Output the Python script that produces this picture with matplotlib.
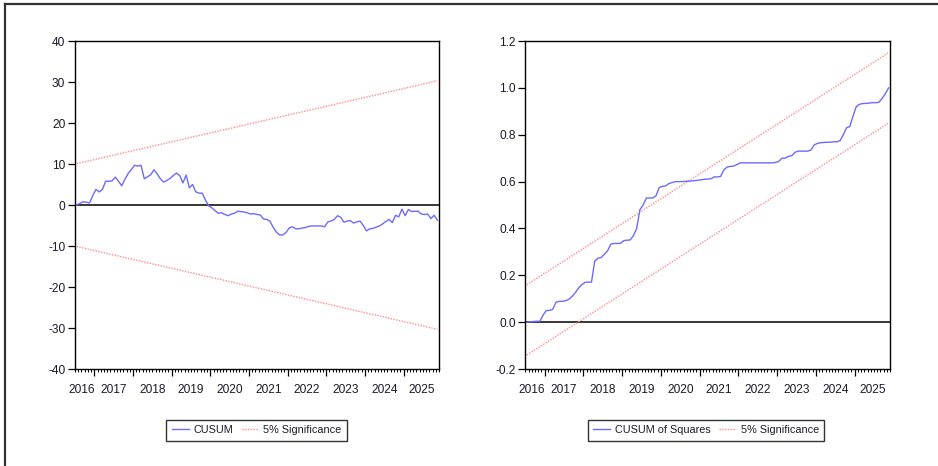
import numpy as np
import matplotlib.pyplot as plt
from matplotlib.lines import Line2D
from matplotlib.ticker import FixedLocator, NullFormatter

plt.rcParams['font.family'] = ['Liberation Sans', 'DejaVu Sans']
plt.rcParams['axes.unicode_minus'] = False

# Monthly sample: 2016M07 .. 2025M11
start_year, start_month = 2016, 7
n_obs = 113
years = list(range(2016, 2026))

cusum = [0.0, 0.4, 0.8, 0.7, 0.5, 2.3, 3.8, 3.2, 3.8, 5.8,
         5.8, 5.9, 6.8, 5.8, 4.7, 6.3, 7.7, 8.7, 9.7, 9.5,
         9.7, 6.4, 6.9, 7.4, 8.6, 7.6, 6.4, 5.6, 6.0, 6.5,
         7.2, 7.8, 7.2, 5.4, 7.3, 4.2, 5.0, 3.2, 2.9, 2.9,
         1.2, -0.2, -0.7, -1.4, -2.0, -1.9, -2.3, -2.6, -2.2, -2.0,
         -1.5, -1.6, -1.7, -1.9, -2.2, -2.1, -2.3, -2.4, -3.4, -3.5,
         -3.9, -5.4, -6.6, -7.3, -7.3, -6.7, -5.6, -5.3, -5.8, -5.8,
         -5.6, -5.5, -5.2, -5.1, -5.1, -5.1, -5.1, -5.3, -4.1, -3.9,
         -3.5, -2.6, -3.0, -4.2, -3.9, -3.8, -4.4, -4.1, -3.9, -5.0,
         -6.3, -5.8, -5.7, -5.4, -5.1, -4.6, -4.0, -3.5, -4.3, -2.5,
         -2.9, -1.0, -2.6, -1.1, -1.6, -1.5, -1.5, -2.2, -2.3, -2.2,
         -3.3, -2.5, -3.7]

cusumsq = [0.0, 0.002, 0.003, 0.004, 0.004, 0.03, 0.05, 0.05, 0.055, 0.085,
           0.089, 0.089, 0.092, 0.098, 0.11, 0.126, 0.146, 0.16, 0.17, 0.171,
           0.171, 0.26, 0.273, 0.276, 0.29, 0.305, 0.333, 0.336, 0.336, 0.337,
           0.348, 0.35, 0.351, 0.37, 0.40, 0.48, 0.50, 0.53, 0.53, 0.53,
           0.54, 0.575, 0.58, 0.582, 0.592, 0.596, 0.60, 0.60, 0.60, 0.601,
           0.602, 0.603, 0.604, 0.606, 0.608, 0.61, 0.611, 0.612, 0.62, 0.62,
           0.622, 0.65, 0.662, 0.665, 0.666, 0.672, 0.68, 0.68, 0.68, 0.68,
           0.68, 0.68, 0.68, 0.68, 0.68, 0.68, 0.68, 0.682, 0.686, 0.70,
           0.70, 0.708, 0.71, 0.725, 0.73, 0.73, 0.73, 0.73, 0.735, 0.757,
           0.763, 0.766, 0.767, 0.768, 0.768, 0.77, 0.77, 0.775, 0.80, 0.83,
           0.835, 0.88, 0.92, 0.93, 0.933, 0.934, 0.935, 0.937, 0.937, 0.938,
           0.955, 0.975, 1.0]

# 5% significance bands (start, end)
cusum_upper = [10.1, 30.3]
cusum_lower = [-10.1, -30.3]
sq_upper = [0.16, 1.15]
sq_lower = [-0.14, 0.85]

months = np.arange(n_obs) + (start_month - 1)
x = start_year + (months + 0.5) / 12.0
x_ends = [x[0], x[-1]]
x_lo = start_year + (start_month - 1) / 12.0
x_hi = x[-1] + 0.5 / 12.0

blue = '#6b6bff'
red = '#ff8c8c'
txt = '#1a1a2a'
fs = 8.6

fig = plt.figure(figsize=(9.38, 4.66), dpi=100)
ax1 = fig.add_axes([0.080, 0.208, 0.388, 0.704])
ax2 = fig.add_axes([0.560, 0.208, 0.389, 0.704])


def style_axis(ax, ylim, yticks, ylabels):
    ax.set_xlim(x_lo, x_hi)
    ax.set_ylim(*ylim)
    ax.axhline(0, color='black', lw=1.1, zorder=1)
    for s in ax.spines.values():
        s.set_linewidth(1.0)
        s.set_color('black')
    ax.set_yticks(yticks)
    ax.set_yticklabels(ylabels, fontsize=fs, color=txt)
    ax.tick_params(axis='y', direction='out', length=5, width=0.9, pad=2, right=False)
    # year starts as major ticks, months as minor
    ax.xaxis.set_major_locator(FixedLocator(years[1:]))
    ax.xaxis.set_major_formatter(NullFormatter())
    mticks = start_year + np.arange(start_month - 1, start_month - 1 + n_obs + 1) / 12.0
    ax.xaxis.set_minor_locator(FixedLocator(mticks))
    ax.tick_params(axis='x', which='major', direction='out', length=5, width=0.9)
    ax.tick_params(axis='x', which='minor', direction='out', length=2.5, width=0.7)
    for yr in years:
        a = max(yr, x_lo)
        b = min(yr + 1, x_hi)
        ax.text((a + b) / 2 - (0.08 if yr == years[0] else 0), -0.065, str(yr),
                transform=ax.get_xaxis_transform(),
                ha='center', va='center', fontsize=fs, color=txt)


style_axis(ax1, (-40, 40), range(-40, 41, 10), [str(v) for v in range(-40, 41, 10)])
l1, = ax1.plot(x, cusum, color=blue, lw=1.0, label='CUSUM', zorder=3)
l2, = ax1.plot(x_ends, cusum_upper, color=red, lw=1.0, ls=(0, (1, 1)), label='5% Significance')
ax1.plot(x_ends, cusum_lower, color=red, lw=1.0, ls=(0, (1, 1)))

sq_ticks = [-0.2, 0.0, 0.2, 0.4, 0.6, 0.8, 1.0, 1.2]
style_axis(ax2, (-0.2, 1.2), sq_ticks, ['%.1f' % v for v in sq_ticks])
l3, = ax2.plot(x, cusumsq, color=blue, lw=1.0, label='CUSUM of Squares', zorder=3)
l4, = ax2.plot(x_ends, sq_upper, color=red, lw=1.0, ls=(0, (1, 1)), label='5% Significance')
ax2.plot(x_ends, sq_lower, color=red, lw=1.0, ls=(0, (1, 1)))

for handles, cx in [([l1, l2], 0.2735), ([l3, l4], 0.7527)]:
    leg = fig.legend(handles=handles, loc='center', bbox_to_anchor=(cx, 0.077), ncol=2,
                     fancybox=False, frameon=True, edgecolor='black', fontsize=7.8,
                     handlelength=1.6, handletextpad=0.4, columnspacing=0.8,
                     borderpad=0.5, borderaxespad=0)
    leg.get_frame().set_linewidth(1.0)
    for t in leg.get_texts():
        t.set_color(txt)

# outer frame (left and top edges)
fig.add_artist(Line2D([0.005, 0.005], [0, 0.992], transform=fig.transFigure, color='#333333', lw=1.6))
fig.add_artist(Line2D([0.005, 1.0], [0.992, 0.992], transform=fig.transFigure, color='#333333', lw=1.6))

fig.savefig('out.png', dpi=100)
